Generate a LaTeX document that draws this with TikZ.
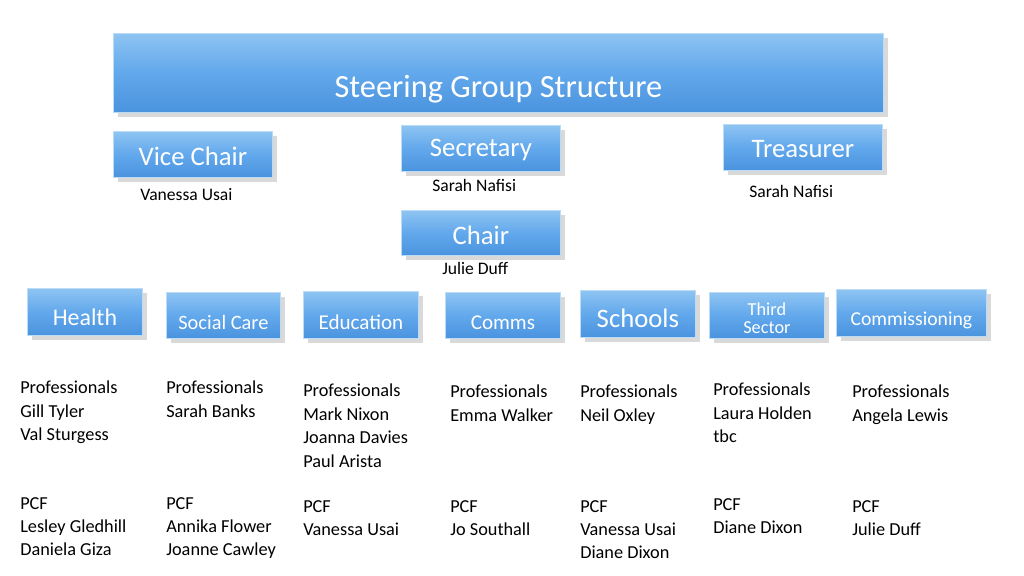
\documentclass[tikz,border=0pt]{standalone}
\usepackage{fontspec}
\setmainfont{Carlito}
\usetikzlibrary{shadows}
\definecolor{btop}{HTML}{8EC4F2}
\definecolor{bmid}{HTML}{62A8EC}
\definecolor{bbot}{HTML}{4A93DE}
\begin{document}
\begin{tikzpicture}[x=0.025cm,y=-0.025cm,
  bx/.style={draw=btop!60!white, line width=0.6pt, top color=btop, bottom color=bbot, middle color=bmid, drop shadow={shadow xshift=3pt,shadow yshift=-3pt,opacity=0.25,fill=black!60}, inner sep=0pt, anchor=north west},
  nm/.style={anchor=north west, inner sep=0pt, font=\fontsize{12.5}{15}\selectfont, align=left},
  ls/.style={anchor=north west, inner sep=0pt, font=\fontsize{13}{16.6}\selectfont, align=left}]
\useasboundingbox (0,0) rectangle (1024,576);
\newcommand{\bxn}[8]{\node[bx, minimum width=#4*0.025cm, minimum height=#5*0.025cm] (#1) at (#2,#3) {};
  \node[text=white,font=\fontsize{#7}{#7}\selectfont,align=center] at ([yshift=-#8*0.025cm]#1.center) {#6};}
\bxn{title}{113}{33}{770}{79}{Steering Group Structure}{23}{16}
\bxn{vice}{113}{131}{159}{46}{Vice Chair}{19}{2}
\bxn{sec}{401}{125}{159}{46}{Secretary}{19}{2}
\bxn{tre}{723}{124}{159}{46}{Treasurer}{19}{2}
\bxn{chair}{401}{210}{159}{45}{Chair}{19}{2}
\bxn{health}{27}{288}{115}{47}{Health}{17}{5}
\bxn{social}{166}{292}{114}{46}{Social Care}{14.5}{7}
\bxn{edu}{303}{291}{115}{47}{Education}{15}{7}
\bxn{comms}{445}{292}{115}{46}{Comms}{15}{7}
\bxn{schools}{580}{290}{115}{47}{Schools}{19}{4}
\node[bx, minimum width=115*0.025cm, minimum height=46*0.025cm] (third) at (709,292) {};
\node[text=white,font=\fontsize{13}{13}\selectfont,align=center] at ([yshift=-3*0.025cm]third.center) {Third\\Sector};
\bxn{comm}{836}{289}{150}{47}{Commissioning}{14}{7}
\node[nm] (n1) at (140,188) {Vanessa Usai};
\node[nm] (n2) at (432,179) {Sarah Nafisi};
\node[nm] (n3) at (749,185) {Sarah Nafisi};
\node[nm] (n4) at (442,262) {Julie Duff};
\node[ls] (p1) at (20,381) {Professionals\\Gill Tyler\\Val Sturgess};
\node[ls] (p2) at (166,381) {Professionals\\Sarah Banks};
\node[ls] (p3) at (303,384) {Professionals\\Mark Nixon\\Joanna Davies\\Paul Arista};
\node[ls] (p4) at (450,385) {Professionals\\Emma Walker};
\node[ls] (p5) at (580,385) {Professionals\\Neil Oxley};
\node[ls] (p6) at (713,383) {Professionals\\Laura Holden\\tbc};
\node[ls] (p7) at (852,385) {Professionals\\Angela Lewis};
\node[ls] (c1) at (20,497) {PCF\\Lesley Gledhill\\Daniela Giza};
\node[ls] (c2) at (166,497) {PCF\\Annika Flower\\Joanne Cawley};
\node[ls] (c3) at (303,500) {PCF\\Vanessa Usai};
\node[ls] (c4) at (450,500) {PCF\\Jo Southall};
\node[ls] (c5) at (580,500) {PCF\\Vanessa Usai\\Diane Dixon};
\node[ls] (c6) at (713,498) {PCF\\Diane Dixon};
\node[ls] (c7) at (852,500) {PCF\\Julie Duff};
\end{tikzpicture}
\end{document}
